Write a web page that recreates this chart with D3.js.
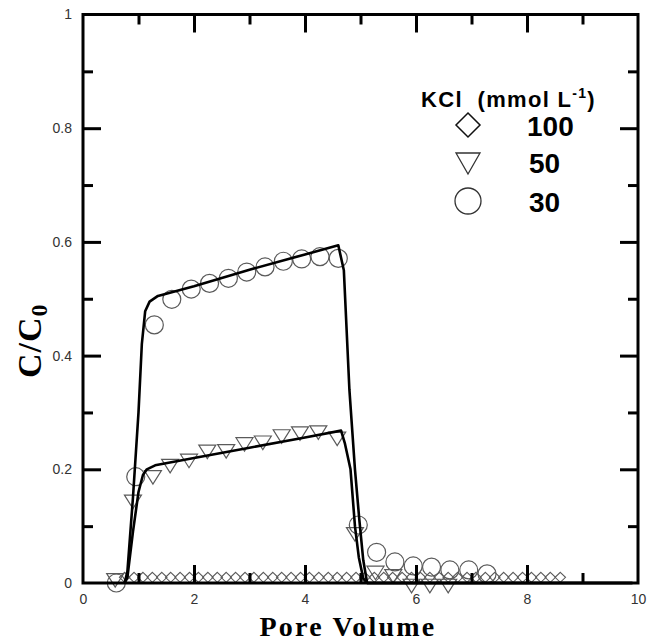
<!DOCTYPE html>
<html>
<head>
<meta charset="utf-8">
<script src="https://cdn.jsdelivr.net/npm/d3@7"></script>
<style>
  body { margin: 0; background: #fff; }
  svg { display: block; }
</style>
</head>
<body>
<div id="chart"></div>
<script>
// KCl 30 mmol/L (circles)
const pv30 = [0.6, 0.95, 1.285, 1.6, 1.95, 2.28, 2.62, 2.95, 3.28, 3.61, 3.94, 4.27, 4.6, 4.96, 5.29, 5.62, 5.95, 6.28, 6.61, 6.95, 7.28];
const c30 = [0.0, 0.187, 0.454, 0.499, 0.517, 0.527, 0.536, 0.547, 0.556, 0.566, 0.570, 0.574, 0.571, 0.102, 0.054, 0.037, 0.030, 0.028, 0.023, 0.023, 0.016];

// KCl 50 mmol/L (triangles)
const pv50 = [0.58, 0.9, 1.26, 1.57, 1.91, 2.24, 2.58, 2.91, 3.24, 3.58, 3.91, 4.24, 4.58, 4.9, 5.27, 5.59, 5.92, 6.25, 6.58];
const c50 = [0.006, 0.144, 0.187, 0.207, 0.216, 0.232, 0.233, 0.245, 0.248, 0.259, 0.264, 0.266, 0.255, 0.087, 0.019, 0.013, -0.004, -0.004, -0.004];

// KCl 100 mmol/L (diamonds)
const pv100 = [0.75, 0.92, 1.08, 1.25, 1.42, 1.58, 1.75, 1.92, 2.08, 2.25, 2.42, 2.58, 2.75, 2.92, 3.08, 3.25,
  3.42, 3.58, 3.75, 3.92, 4.08, 4.25, 4.42, 4.58, 4.75, 4.92, 5.08, 5.25, 5.42, 5.58, 5.75, 5.92,
  6.08, 6.25, 6.42, 6.58, 6.75, 6.92, 7.08, 7.25, 7.42, 7.58, 7.75, 7.92, 8.08, 8.25, 8.42, 8.6];
const c100 = [0.01, 0.01, 0.01, 0.01, 0.01, 0.01, 0.01, 0.01, 0.01, 0.01, 0.01, 0.01, 0.01, 0.01, 0.01, 0.01,
  0.01, 0.01, 0.01, 0.01, 0.01, 0.01, 0.01, 0.01, 0.01, 0.01, 0.01, 0.01, 0.01, 0.01, 0.01, 0.01,
  0.01, 0.01, 0.01, 0.01, 0.01, 0.01, 0.01, 0.01, 0.01, 0.01, 0.01, 0.01, 0.01, 0.01, 0.01, 0.01];

// fitted curves
const fitPv30 = [0.75, 0.8, 0.9, 1.0, 1.06, 1.12, 1.2, 1.35, 2.0, 3.0, 4.0, 4.6, 4.7, 4.8, 4.9, 4.98, 5.05, 5.12, 9.9];
const fitC30 = [0.0, 0.02, 0.15, 0.30, 0.42, 0.478, 0.495, 0.505, 0.522, 0.551, 0.578, 0.594, 0.55, 0.34, 0.2, 0.11, 0.04, 0.0, 0.0];
const fitPv50 = [0.75, 0.8, 0.9, 1.0, 1.08, 1.15, 1.3, 2.0, 3.0, 4.0, 4.65, 4.72, 4.82, 4.9, 4.97, 5.05, 5.12, 9.9];
const fitC50 = [0.0, 0.01, 0.09, 0.16, 0.19, 0.2, 0.207, 0.22, 0.238, 0.256, 0.268, 0.245, 0.2, 0.1, 0.045, 0.008, 0.0, 0.0];

const xTickLabels = [0, 2, 4, 6, 8, 10];
const yTickLabels = [0, 0.2, 0.4, 0.6, 0.8, 1];
const legendLabels = ["100", "50", "30"];

const W = 647, H = 642;
const margin = {top: 14.5, right: 9, bottom: 59, left: 83};
const width = W - margin.left - margin.right;
const height = H - margin.top - margin.bottom;

const svg = d3.select("#chart").append("svg").attr("width", W).attr("height", H);
const g = svg.append("g").attr("transform", `translate(${margin.left},${margin.top})`);

const x = d3.scaleLinear().domain([0, 10]).range([0, width]);
const y = d3.scaleLinear().domain([0, 1]).range([height, 0]);

const sans = "Arial, 'Liberation Sans', sans-serif";
const serif = "'Times New Roman', 'Liberation Serif', serif";
const markStroke = "#5a5a5a";

const zip = (a, b) => a.map((v, i) => [v, b[i]]);

// markers
g.append("g").selectAll("path")
  .data(zip(pv100, c100))
  .join("path")
  .attr("d", "M0,-5 L5.2,0 L0,5 L-5.2,0 Z")
  .attr("transform", d => `translate(${x(d[0])},${y(d[1])})`)
  .attr("fill", "none").attr("stroke", markStroke).attr("stroke-width", 1.1);

const tri = "M-8.5,-6 L8.5,-6 L0,7.5 Z";
g.append("g").selectAll("path")
  .data(zip(pv50, c50))
  .join("path")
  .attr("d", tri)
  .attr("transform", d => `translate(${x(d[0])},${y(d[1])})`)
  .attr("fill", "none").attr("stroke", markStroke).attr("stroke-width", 1.2);

g.append("g").selectAll("circle")
  .data(zip(pv30, c30))
  .join("circle")
  .attr("cx", d => x(d[0])).attr("cy", d => y(d[1])).attr("r", 9)
  .attr("fill", "none").attr("stroke", markStroke).attr("stroke-width", 1.2);

// fitted lines
const line = d3.line().x(d => x(d[0])).y(d => y(d[1]));
[[fitPv30, fitC30], [fitPv50, fitC50]].forEach(([px, py]) => {
  g.append("path")
    .datum(zip(px, py))
    .attr("d", line)
    .attr("fill", "none").attr("stroke", "#000").attr("stroke-width", 2.6)
    .attr("stroke-linejoin", "round");
});

// frame
g.append("rect").attr("width", width).attr("height", height)
  .attr("fill", "none").attr("stroke", "#000").attr("stroke-width", 3);

// inward ticks
function ticks(axisFn, scale, values, size, transform) {
  const a = g.append("g").attr("transform", transform)
    .call(axisFn(scale).tickValues(values).tickSize(size).tickFormat(""));
  a.select(".domain").remove();
  a.selectAll("line").attr("stroke-width", 3);
}
ticks(d3.axisBottom, x, [2, 4, 6, 8], -18, `translate(0,${height})`);
ticks(d3.axisBottom, x, [1, 3, 5, 7, 9], -10, `translate(0,${height})`);
ticks(d3.axisTop, x, [2, 4, 6, 8], -18, "translate(0,0)");
ticks(d3.axisTop, x, [1, 3, 5, 7, 9], -10, "translate(0,0)");
ticks(d3.axisLeft, y, [0.2, 0.4, 0.6, 0.8], -18, "translate(0,0)");
ticks(d3.axisLeft, y, [0.1, 0.3, 0.5, 0.7, 0.9], -10, "translate(0,0)");
ticks(d3.axisRight, y, [0.2, 0.4, 0.6, 0.8], -18, `translate(${width},0)`);
ticks(d3.axisRight, y, [0.1, 0.3, 0.5, 0.7, 0.9], -10, `translate(${width},0)`);

// tick labels
const xl = g.append("g").attr("transform", `translate(0,${height})`)
  .call(d3.axisBottom(x).tickValues(xTickLabels).tickSize(0).tickPadding(11).tickFormat(d3.format("")));
xl.select(".domain").remove();
xl.selectAll("text").attr("font-family", sans).attr("font-size", 14).attr("fill", "#333");

const yl = g.append("g")
  .call(d3.axisLeft(y).tickValues(yTickLabels).tickSize(0).tickPadding(11).tickFormat(d3.format("")));
yl.select(".domain").remove();
yl.selectAll("text").attr("font-family", sans).attr("font-size", 14).attr("fill", "#333");

// axis titles
svg.append("text")
  .attr("x", 348).attr("y", 636)
  .attr("text-anchor", "middle")
  .attr("font-family", serif).attr("font-weight", "bold").attr("font-size", 28)
  .attr("letter-spacing", 2.2)
  .text("Pore Volume");

const yt = svg.append("text")
  .attr("transform", `translate(41,${margin.top + height / 2 + 42}) rotate(-90)`)
  .attr("text-anchor", "middle")
  .attr("font-family", serif).attr("font-weight", "bold").attr("font-size", 34)
  .attr("letter-spacing", 1);
yt.append("tspan").text("C/C");
yt.append("tspan").attr("font-size", 24).attr("dy", 6).text("0");

// legend
const leg = svg.append("g");
const lt = leg.append("text").attr("x", 421).attr("y", 107)
  .attr("font-family", sans).attr("font-weight", "bold").attr("font-size", 22)
  .attr("letter-spacing", 1.3)
  .style("white-space", "pre");
lt.append("tspan").text("KCl  (mmol L");
lt.append("tspan").attr("font-size", 14).attr("dy", -9).text("-1");
lt.append("tspan").attr("dy", 9).text(")");

const legY = [125, 162, 201];
const legX = 468;
leg.append("path")
  .attr("d", "M0,-12 L12,0 L0,12 L-12,0 Z")
  .attr("transform", `translate(${legX},${legY[0]})`)
  .attr("fill", "none").attr("stroke", "#111").attr("stroke-width", 1.5);
leg.append("path")
  .attr("d", "M-12,-9 L12,-9 L0,12 Z")
  .attr("transform", `translate(${legX},${legY[1]})`)
  .attr("fill", "none").attr("stroke", "#333").attr("stroke-width", 1.3);
leg.append("circle").attr("cx", legX).attr("cy", legY[2]).attr("r", 13)
  .attr("fill", "none").attr("stroke", "#333").attr("stroke-width", 1.3);

leg.selectAll(".ll")
  .data(legendLabels)
  .join("text")
  .attr("class", "ll")
  .attr("x", (d, i) => i === 0 ? 527 : 529)
  .attr("y", (d, i) => legY[i] + 11)
  .attr("font-family", sans).attr("font-weight", "bold").attr("font-size", 28)
  .text(d => d);
</script>
</body>
</html>
